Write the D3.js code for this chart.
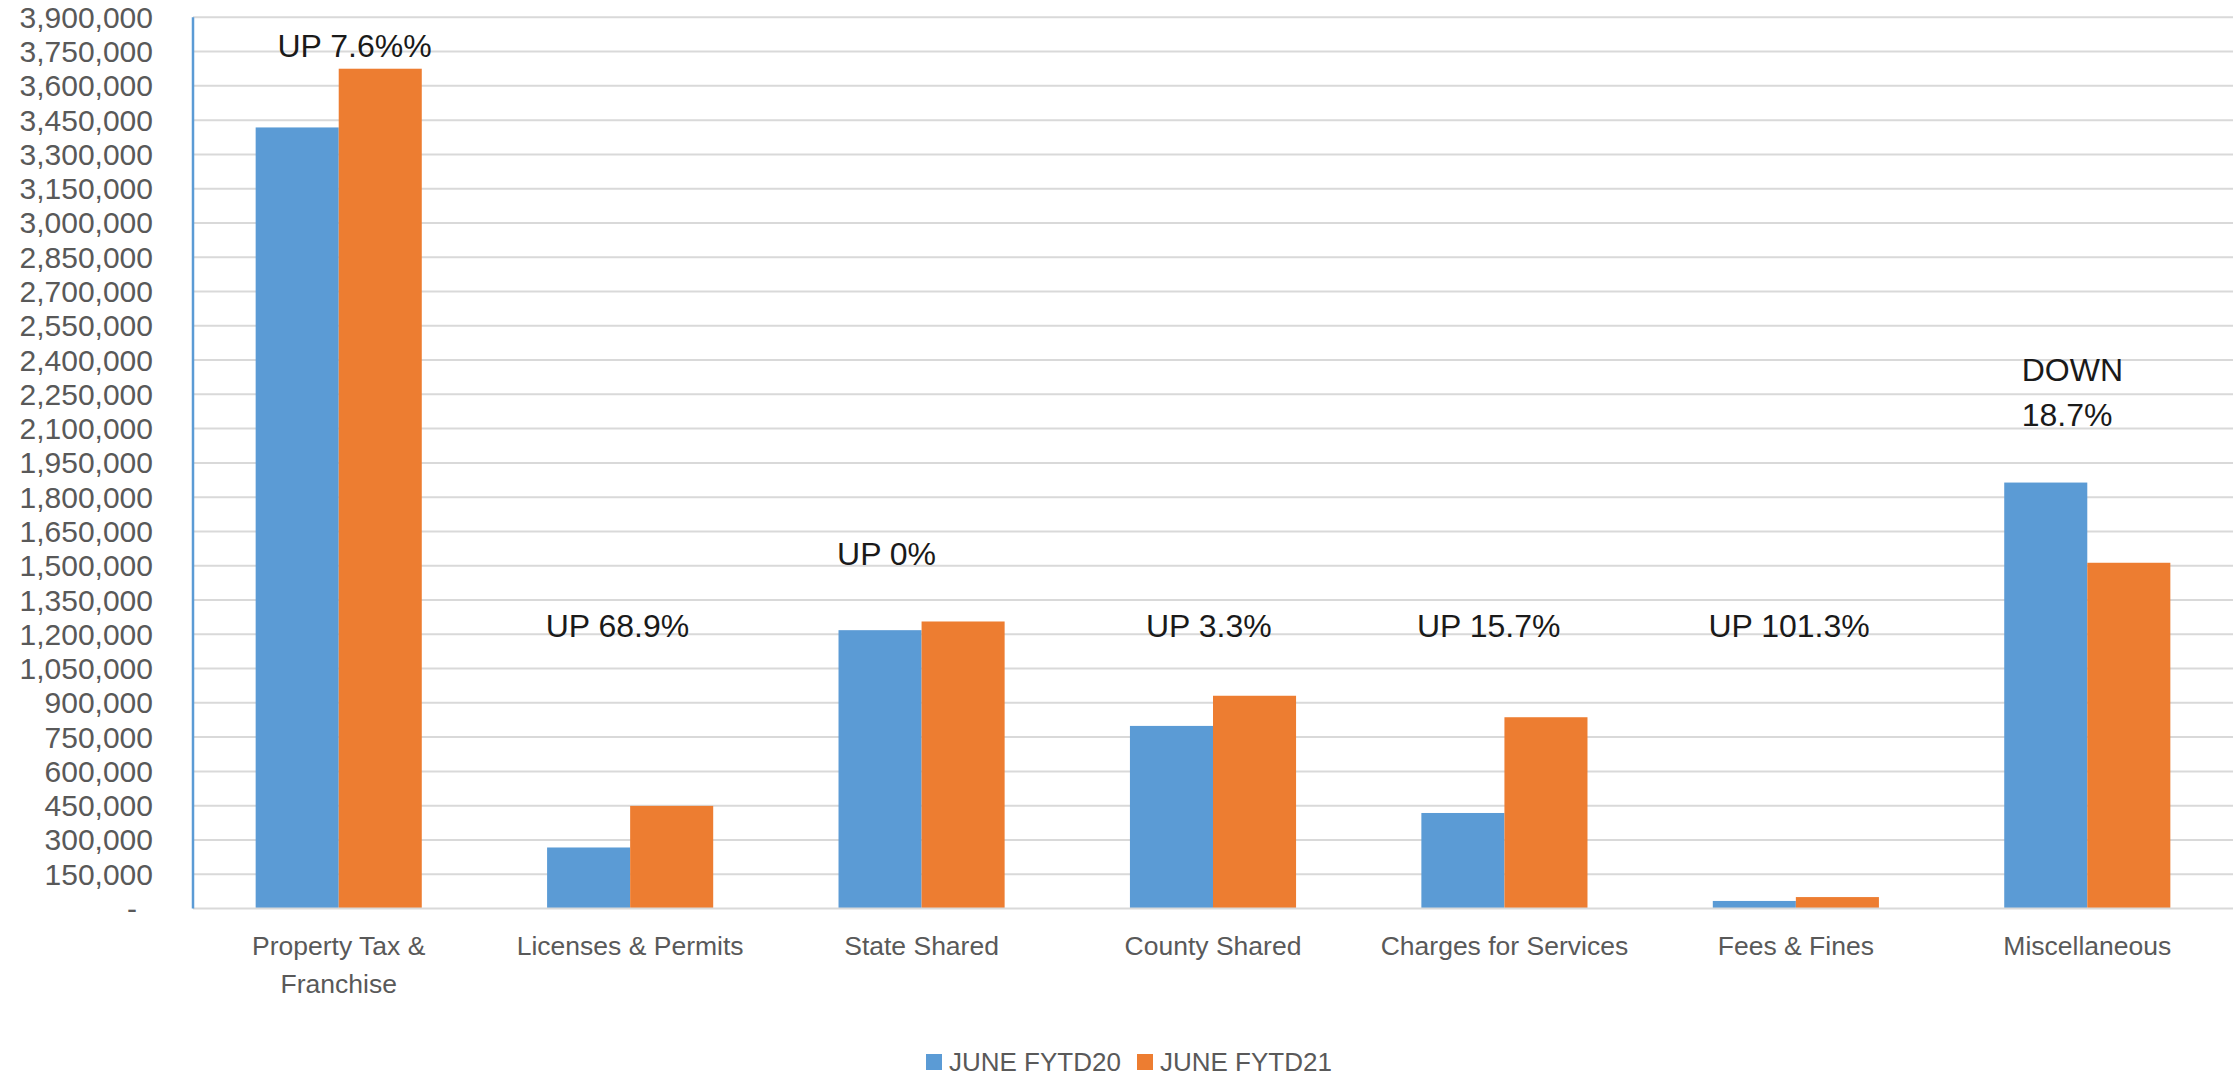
<!DOCTYPE html>
<html>
<head>
<meta charset="utf-8">
<script src="https://cdn.jsdelivr.net/npm/d3@7"></script>
<style>
  html, body { margin: 0; padding: 0; background: #fff; }
  svg text { font-family: "Liberation Sans", Arial, sans-serif; }
  .tick-label { fill: #595959; font-size: 30px; }
  .cat-label  { fill: #595959; font-size: 26.5px; }
  .legend-label { fill: #595959; font-size: 26px; }
  .change-label { fill: #1a1a1a; font-size: 32px; }
</style>
</head>
<body>
<div id="chart"></div>
<script>
const categories = ["Property Tax & Franchise", "Licenses & Permits", "State Shared",
  "County Shared", "Charges for Services", "Fees & Fines", "Miscellaneous"];
const seriesNames = ["JUNE FYTD20", "JUNE FYTD21"];
const fytd20 = [3418000, 267000, 1218000, 799000, 418000, 33000, 1864000];
const fytd21 = [3675000, 449000, 1256000, 931000, 837000, 50000, 1513000];
const tickValues = d3.range(0, 3900001, 150000);
const changeLabels = [["UP 7.6%%"], ["UP 68.9%"], ["UP 0%"], ["UP 3.3%"],
  ["UP 15.7%"], ["UP 101.3%"], ["DOWN", "18.7%"]];

// where each change label sits: fraction of the category band, value at first baseline
const LABEL_POS = [[0.29, 3726000], [0.21, 1186000], [0.21, 1502000], [0.27, 1186000],
  [0.20, 1186000], [0.20, 1186000], [0.275, 2308000]];

const COLORS = ["#5B9BD5", "#ED7D31"];
const WIDTH = 2239, HEIGHT = 1080;
const PLOT = { left: 193, right: 2233, top: 17.3, bottom: 908.5 };

const svg = d3.select("#chart").append("svg")
  .attr("width", WIDTH).attr("height", HEIGHT);

const x0 = d3.scaleBand().domain(categories).range([PLOT.left, PLOT.right]).padding(0);
const bw = x0.bandwidth();
const x1 = d3.scaleBand().domain(seriesNames).range([bw * 0.215, bw * 0.785]).padding(0);
const y = d3.scaleLinear().domain([0, 3900000]).range([PLOT.bottom, PLOT.top]);

// Grid lines
svg.append("g").selectAll("line")
  .data(tickValues.filter(d => d > 0))
  .enter().append("line")
  .attr("x1", PLOT.left).attr("x2", PLOT.right)
  .attr("y1", d => y(d)).attr("y2", d => y(d))
  .attr("stroke", "#D9D9D9").attr("stroke-width", 2);

// Y tick labels
const fmt = d3.format(",");
svg.append("g").selectAll("text")
  .data(tickValues)
  .enter().append("text")
  .attr("class", "tick-label")
  .attr("x", d => d === 0 ? 137 : 153)
  .attr("y", d => y(d))
  .attr("dy", "0.35em")
  .attr("text-anchor", "end")
  .text(d => d === 0 ? "-" : fmt(d));

// Bars
const data = categories.map((c, i) => ({ cat: c, values: [fytd20[i], fytd21[i]] }));
const groups = svg.append("g").selectAll("g")
  .data(data)
  .enter().append("g")
  .attr("transform", d => `translate(${x0(d.cat)},0)`);

groups.selectAll("rect")
  .data(d => d.values.map((v, j) => ({ key: seriesNames[j], v, j })))
  .enter().append("rect")
  .attr("x", d => x1(d.key))
  .attr("width", x1.bandwidth())
  .attr("y", d => y(d.v))
  .attr("height", d => y(0) - y(d.v))
  .attr("fill", d => COLORS[d.j]);

// Axis lines
svg.append("line")
  .attr("x1", PLOT.left).attr("x2", PLOT.right)
  .attr("y1", PLOT.bottom).attr("y2", PLOT.bottom)
  .attr("stroke", "#D9D9D9").attr("stroke-width", 2);
svg.append("line")
  .attr("x1", PLOT.left).attr("x2", PLOT.left)
  .attr("y1", PLOT.top).attr("y2", PLOT.bottom)
  .attr("stroke", "#5B9BD5").attr("stroke-width", 2.5);

// Category labels, wrapped like Excel does
const catLabels = svg.append("g").selectAll("text")
  .data(categories)
  .enter().append("text")
  .attr("class", "cat-label")
  .attr("text-anchor", "middle")
  .attr("x", d => x0(d) + bw / 2)
  .attr("y", 955);

catLabels.each(function(d) {
  const el = d3.select(this);
  const words = d.split(" ");
  let line = [], lineNo = 0;
  let tspan = el.append("tspan").attr("x", x0(d) + bw / 2).attr("dy", 0);
  words.forEach(w => {
    line.push(w);
    tspan.text(line.join(" "));
    if (tspan.node().getComputedTextLength() > 265 && line.length > 1) {
      line.pop();
      tspan.text(line.join(" "));
      line = [w];
      lineNo++;
      tspan = el.append("tspan").attr("x", x0(d) + bw / 2).attr("dy", 38).text(w);
    }
  });
});

// Change annotations
svg.append("g").selectAll("text")
  .data(changeLabels)
  .enter().append("text")
  .attr("class", "change-label")
  .attr("x", (d, i) => x0(categories[i]) + bw * LABEL_POS[i][0])
  .attr("y", (d, i) => y(LABEL_POS[i][1]))
  .each(function(d, i) {
    const el = d3.select(this);
    d.forEach((t, k) => {
      el.append("tspan")
        .attr("x", x0(categories[i]) + bw * LABEL_POS[i][0])
        .attr("dy", k === 0 ? 0 : 45)
        .text(t);
    });
  });

// Legend
const legendX = [926, 1137];
const legend = svg.append("g").selectAll("g")
  .data(seriesNames)
  .enter().append("g")
  .attr("transform", (d, i) => `translate(${legendX[i]}, 1062)`);
legend.append("rect")
  .attr("x", 0).attr("y", -8).attr("width", 16).attr("height", 16)
  .attr("fill", (d, i) => COLORS[i]);
legend.append("text")
  .attr("class", "legend-label")
  .attr("x", 23).attr("dy", "0.35em")
  .text(d => d);
</script>
</body>
</html>
